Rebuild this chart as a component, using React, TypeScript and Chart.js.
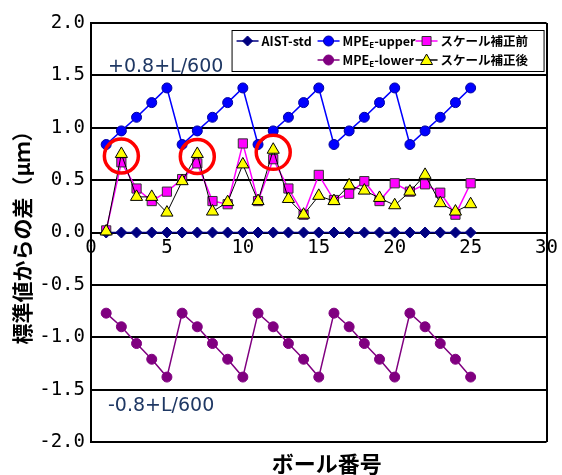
import React, { useEffect, useRef } from 'react';
import { Chart, registerables } from 'chart.js';

Chart.register(...registerables);

// ---------- data ----------
const ballNumbers = [1, 2, 3, 4, 5, 6, 7, 8, 9, 10, 11, 12, 13, 14, 15, 16, 17, 18, 19, 20, 21, 22, 23, 24, 25];
const aistStd = [0, 0, 0, 0, 0, 0, 0, 0, 0, 0, 0, 0, 0, 0, 0, 0, 0, 0, 0, 0, 0, 0, 0, 0, 0];
const mpeUpper = [0.84, 0.97, 1.1, 1.24, 1.38, 0.84, 0.97, 1.1, 1.24, 1.38, 0.84, 0.97, 1.1, 1.24, 1.38, 0.84, 0.97, 1.1, 1.24, 1.38, 0.84, 0.97, 1.1, 1.24, 1.38];
const mpeLower = [-0.77, -0.9, -1.06, -1.21, -1.38, -0.77, -0.9, -1.06, -1.21, -1.38, -0.77, -0.9, -1.06, -1.21, -1.38, -0.77, -0.9, -1.06, -1.21, -1.38, -0.77, -0.9, -1.06, -1.21, -1.38];
const beforeCorr = [0.02, 0.67, 0.42, 0.3, 0.39, 0.51, 0.66, 0.3, 0.27, 0.85, 0.3, 0.7, 0.42, 0.17, 0.55, 0.31, 0.37, 0.49, 0.3, 0.47, 0.39, 0.46, 0.38, 0.17, 0.47];
const afterCorr = [0.01, 0.75, 0.34, 0.34, 0.19, 0.49, 0.75, 0.2, 0.29, 0.65, 0.3, 0.79, 0.32, 0.17, 0.35, 0.3, 0.45, 0.4, 0.33, 0.26, 0.39, 0.55, 0.28, 0.2, 0.27];
const highlighted = [2, 7, 12];

const seriesNames = ['AIST-std', 'MPE_E-upper', 'MPE_E-lower', 'スケール補正前', 'スケール補正後'];
const upperLimitLabel = '+0.8+L/600';
const lowerLimitLabel = '-0.8+L/600';
const xTitle = 'ボール番号';
const yTitle = '標準値からの差（μｍ）';
const xMin = 0, xMax = 30, xStep = 5;
const yMin = -2, yMax = 2, yStep = 0.5;

// ---------- styles ----------
const C_AIST = '#000080';
const C_UP = '#0000FF';
const C_LOW = '#800080';
const C_BEF = '#FF00FF';
const C_AFT = '#FFFF00';
const TICK_FONT = { family: '"DejaVu Sans Mono", monospace', size: 19 };
const JP = '"Noto Sans CJK JP", "Noto Sans", sans-serif';

const toXY = (vals: number[]) => vals.map((v, i) => ({ x: ballNumbers[i], y: v }));

function marker(ctx: CanvasRenderingContext2D, kind: string, x: number, y: number) {
  ctx.save();
  ctx.lineWidth = 1;
  ctx.beginPath();
  if (kind === 'diamond') {
    ctx.fillStyle = C_AIST; ctx.strokeStyle = C_AIST;
    ctx.moveTo(x - 5, y); ctx.lineTo(x, y - 5); ctx.lineTo(x + 5, y); ctx.lineTo(x, y + 5); ctx.closePath();
  } else if (kind === 'circUp') {
    ctx.fillStyle = C_UP; ctx.strokeStyle = '#0000A0';
    ctx.arc(x, y, 5, 0, Math.PI * 2);
  } else if (kind === 'circLow') {
    ctx.fillStyle = C_LOW; ctx.strokeStyle = C_LOW;
    ctx.arc(x, y, 5, 0, Math.PI * 2);
  } else if (kind === 'square') {
    ctx.fillStyle = C_BEF; ctx.strokeStyle = '#333333';
    ctx.rect(x - 4.5, y - 4.5, 9, 9);
  } else {
    ctx.fillStyle = C_AFT; ctx.strokeStyle = '#000000';
    ctx.moveTo(x, y - 6); ctx.lineTo(x + 6, y + 4.5); ctx.lineTo(x - 6, y + 4.5); ctx.closePath();
  }
  ctx.fill(); ctx.stroke();
  ctx.restore();
}

const overlayPlugin = {
  id: 'overlay',
  afterDatasetsDraw(chart: any) {
    const { ctx, chartArea, scales } = chart;
    const xs = scales.x, ys = scales.y;
    ctx.save();

    // red highlight circles
    ctx.strokeStyle = '#FF0000';
    ctx.lineWidth = 3.5;
    highlighted.forEach((n) => {
      const i = ballNumbers.indexOf(n);
      const cx = xs.getPixelForValue(n);
      const cy = ys.getPixelForValue((beforeCorr[i] + afterCorr[i]) / 2 + 0.02);
      ctx.beginPath();
      ctx.arc(cx, cy, 17, 0, Math.PI * 2);
      ctx.stroke();
    });

    // limit labels
    ctx.fillStyle = '#1F3864';
    ctx.font = '19px "DejaVu Sans", sans-serif';
    ctx.textAlign = 'left';
    ctx.textBaseline = 'alphabetic';
    ctx.fillText(upperLimitLabel, chartArea.left + 17, ys.getPixelForValue(1.5) - 3);
    ctx.fillText(lowerLimitLabel, chartArea.left + 17, ys.getPixelForValue(-1.5) + 21);

    // legend box
    const bx = chartArea.right - 315, by = chartArea.top + 7, bw = 312, bh = 41;
    ctx.fillStyle = '#FFFFFF';
    ctx.fillRect(bx, by, bw, bh);
    ctx.strokeStyle = '#000000';
    ctx.lineWidth = 1;
    ctx.strokeRect(bx + 0.5, by + 0.5, bw, bh);

    const items = [
      { name: seriesNames[0], kind: 'diamond', color: C_AIST, col: 0, row: 0 },
      { name: seriesNames[1], kind: 'circUp', color: C_UP, col: 1, row: 0 },
      { name: seriesNames[3], kind: 'square', color: C_BEF, col: 2, row: 0 },
      { name: seriesNames[2], kind: 'circLow', color: C_LOW, col: 1, row: 1 },
      { name: seriesNames[4], kind: 'tri', color: '#000000', col: 2, row: 1 },
    ];
    const colX = [bx + 5, bx + 86, bx + 184];
    items.forEach((it) => {
      const lx = colX[it.col];
      const ly = by + 11 + it.row * 19;
      ctx.strokeStyle = it.color;
      ctx.lineWidth = 1.5;
      ctx.beginPath();
      ctx.moveTo(lx, ly); ctx.lineTo(lx + 22, ly);
      ctx.stroke();
      marker(ctx, it.kind, lx + 11, ly);
      ctx.fillStyle = '#000000';
      ctx.textBaseline = 'middle';
      ctx.textAlign = 'left';
      const tx = lx + 25;
      if (it.name.startsWith('MPE_E')) {
        ctx.font = `bold 12.5px ${JP}`;
        ctx.fillText('MPE', tx, ly);
        const w1 = ctx.measureText('MPE').width;
        ctx.font = `bold 8px ${JP}`;
        ctx.fillText('E', tx + w1, ly + 4);
        const w2 = ctx.measureText('E').width;
        ctx.font = `bold 12.5px ${JP}`;
        ctx.fillText(it.name.slice(5), tx + w1 + w2, ly);
      } else {
        ctx.font = `bold 12.5px ${JP}`;
        ctx.fillText(it.name, tx, ly);
      }
    });

    // x axis title
    ctx.fillStyle = '#000000';
    ctx.font = `bold 22px ${JP}`;
    ctx.textAlign = 'center';
    ctx.textBaseline = 'middle';
    ctx.fillText(xTitle, (chartArea.left + chartArea.right) / 2 + 8, chartArea.bottom + 22);

    ctx.restore();
  },
};

export default function App() {
  const canvasRef = useRef<HTMLCanvasElement | null>(null);

  useEffect(() => {
    if (!canvasRef.current) return;
    const chart = new Chart(canvasRef.current, {
      type: 'line',
      data: {
        datasets: [
          {
            label: seriesNames[4], data: toXY(afterCorr), order: 0,
            borderColor: '#000000', borderWidth: 1,
            pointStyle: 'triangle', pointRadius: 7, pointBackgroundColor: C_AFT, pointBorderColor: '#000000', pointBorderWidth: 1,
          },
          {
            label: seriesNames[3], data: toXY(beforeCorr), order: 1,
            borderColor: C_BEF, borderWidth: 1.5,
            pointStyle: 'rect', pointRadius: 6.5, pointBackgroundColor: C_BEF, pointBorderColor: '#333333', pointBorderWidth: 1,
          },
          {
            label: seriesNames[0], data: toXY(aistStd), order: 2,
            borderColor: C_AIST, borderWidth: 1.5,
            pointStyle: 'rectRot', pointRadius: 5.5, pointBackgroundColor: C_AIST, pointBorderColor: C_AIST, pointBorderWidth: 1,
          },
          {
            label: seriesNames[1], data: toXY(mpeUpper), order: 3,
            borderColor: C_UP, borderWidth: 1.5,
            pointStyle: 'circle', pointRadius: 5, pointBackgroundColor: C_UP, pointBorderColor: '#0000A0', pointBorderWidth: 1,
          },
          {
            label: seriesNames[2], data: toXY(mpeLower), order: 4,
            borderColor: C_LOW, borderWidth: 1.5,
            pointStyle: 'circle', pointRadius: 5, pointBackgroundColor: C_LOW, pointBorderColor: C_LOW, pointBorderWidth: 1,
          },
        ],
      },
      options: {
        animation: false,
        responsive: true,
        maintainAspectRatio: false,
        events: [],
        layout: { padding: { left: 0, top: 23, right: 14, bottom: 33 } },
        plugins: { legend: { display: false }, tooltip: { enabled: false }, title: { display: false } },
        scales: {
          x: {
            type: 'linear',
            position: { y: 0 } as any,
            min: xMin, max: xMax,
            ticks: { stepSize: xStep, color: '#000', font: TICK_FONT, padding: 4, maxRotation: 0 },
            grid: {
              drawTicks: false,
              lineWidth: 2,
              color: (c: any) => (c.tick && (c.tick.value === xMin || c.tick.value === xMax) ? '#000000' : 'rgba(0,0,0,0)'),
            },
            border: { display: true, color: '#000000', width: 2 },
          },
          y: {
            type: 'linear',
            min: yMin, max: yMax,
            afterFit: (s: any) => { s.width = 91; },
            ticks: {
              stepSize: yStep, color: '#000', font: TICK_FONT, padding: 6,
              callback: (v: any) => Number(v).toFixed(1),
            },
            grid: { drawTicks: false, lineWidth: 2, color: '#000000' },
            border: { display: true, color: '#000000', width: 2 },
            title: {
              display: true, text: yTitle, color: '#000',
              font: { family: JP, size: 21, weight: 'bold' },
              padding: { top: 9, bottom: 0 },
            },
          },
        },
      },
      plugins: [overlayPlugin],
    });
    return () => chart.destroy();
  }, []);

  return (
    <div style={{ position: 'absolute', left: 0, top: 0, width: 562, height: 475, background: '#fff' }}>
      <canvas ref={canvasRef} />
    </div>
  );
}
